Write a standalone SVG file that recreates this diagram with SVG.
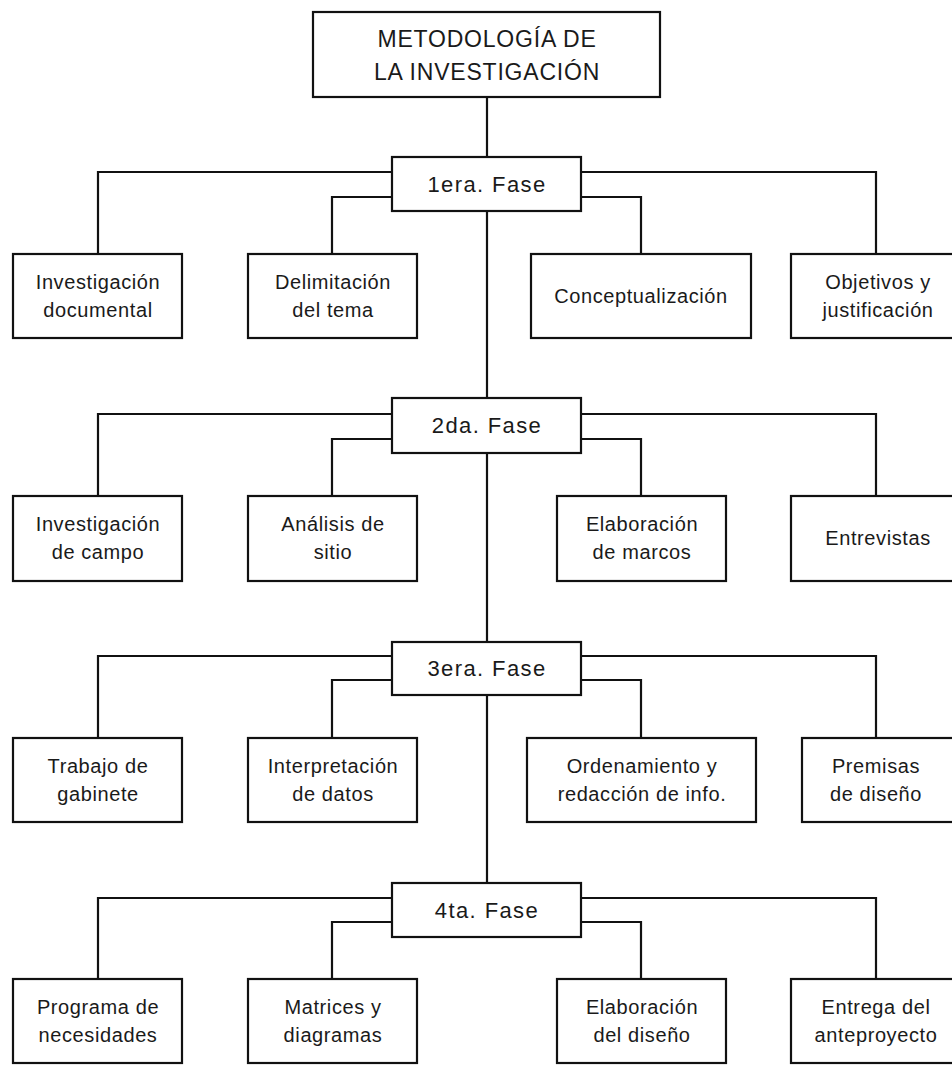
<svg xmlns="http://www.w3.org/2000/svg" width="952" height="1065" viewBox="0 0 952 1065">
<style>
rect{fill:#fff;stroke:#111;stroke-width:2.2}
.c path{fill:none;stroke:#111;stroke-width:2.2}
text{font-family:"Liberation Sans",Arial,sans-serif;fill:#1a1a1a;text-anchor:middle}
.t{font-size:23px;letter-spacing:0.8px}
.f{font-size:22px;letter-spacing:1.4px}
.n{font-size:20px;letter-spacing:0.6px}
</style>
<rect x="0" y="0" width="952" height="1065" style="stroke:none"/>
<g class="c" id="connectors">
<path d="M487 97V157M487 211V398M487 453V642M487 695V883"/>
<path d="M392 172H98V254M392 197H332V254M581 172H876V254M581 197H641V254"/>
<path d="M392 414H98V496M392 439H332V496M581 414H876V496M581 439H641V496"/>
<path d="M392 656H98V738M392 680H332V738M581 656H876V738M581 680H641V738"/>
<path d="M392 898H98V979M392 922H332V979M581 898H876V979M581 922H641V979"/>
</g>
<g id="title"><rect x="313" y="12" width="347" height="85"/><text class="t" x="487" y="47">METODOLOGÍA DE</text><text class="t" x="487" y="80">LA INVESTIGACIÓN</text></g>
<g id="fase1"><rect x="392" y="157" width="189" height="54"/><text class="f" x="487" y="192">1era. Fase</text></g>
<g id="fase2"><rect x="392" y="398" width="189" height="55"/><text class="f" x="487" y="433">2da. Fase</text></g>
<g id="fase3"><rect x="392" y="642" width="189" height="53"/><text class="f" x="487" y="676">3era. Fase</text></g>
<g id="fase4"><rect x="392" y="883" width="189" height="54"/><text class="f" x="487" y="918">4ta. Fase</text></g>

<g id="n1a"><rect x="13" y="254" width="169" height="84"/><text class="n" x="98" y="289">Investigación</text><text class="n" x="98" y="317">documental</text></g>
<g id="n1b"><rect x="248" y="254" width="169" height="84"/><text class="n" x="333" y="289">Delimitación</text><text class="n" x="333" y="317">del tema</text></g>
<g id="n1c"><rect x="531" y="254" width="220" height="84"/><text class="n" x="641" y="303">Conceptualización</text></g>
<g id="n1d"><rect x="791" y="254" width="170" height="84"/><text class="n" x="878" y="289">Objetivos y</text><text class="n" x="878" y="317">justificación</text></g>

<g id="n2a"><rect x="13" y="496" width="169" height="85"/><text class="n" x="98" y="531">Investigación</text><text class="n" x="98" y="559">de campo</text></g>
<g id="n2b"><rect x="248" y="496" width="169" height="85"/><text class="n" x="333" y="531">Análisis de</text><text class="n" x="333" y="559">sitio</text></g>
<g id="n2c"><rect x="557" y="496" width="169" height="85"/><text class="n" x="642" y="531">Elaboración</text><text class="n" x="642" y="559">de marcos</text></g>
<g id="n2d"><rect x="791" y="496" width="170" height="85"/><text class="n" x="878" y="545">Entrevistas</text></g>

<g id="n3a"><rect x="13" y="738" width="169" height="84"/><text class="n" x="98" y="773">Trabajo de</text><text class="n" x="98" y="801">gabinete</text></g>
<g id="n3b"><rect x="248" y="738" width="169" height="84"/><text class="n" x="333" y="773">Interpretación</text><text class="n" x="333" y="801">de datos</text></g>
<g id="n3c"><rect x="527" y="738" width="229" height="84"/><text class="n" x="642" y="773">Ordenamiento y</text><text class="n" x="642" y="801">redacción de info.</text></g>
<g id="n3d"><rect x="802" y="738" width="160" height="84"/><text class="n" x="876" y="773">Premisas</text><text class="n" x="876" y="801">de diseño</text></g>

<g id="n4a"><rect x="13" y="979" width="169" height="84"/><text class="n" x="98" y="1014">Programa de</text><text class="n" x="98" y="1042">necesidades</text></g>
<g id="n4b"><rect x="248" y="979" width="169" height="84"/><text class="n" x="333" y="1014">Matrices y</text><text class="n" x="333" y="1042">diagramas</text></g>
<g id="n4c"><rect x="557" y="979" width="169" height="84"/><text class="n" x="642" y="1014">Elaboración</text><text class="n" x="642" y="1042">del diseño</text></g>
<g id="n4d"><rect x="791" y="979" width="170" height="84"/><text class="n" x="876" y="1014">Entrega del</text><text class="n" x="876" y="1042">anteproyecto</text></g>
</svg>
